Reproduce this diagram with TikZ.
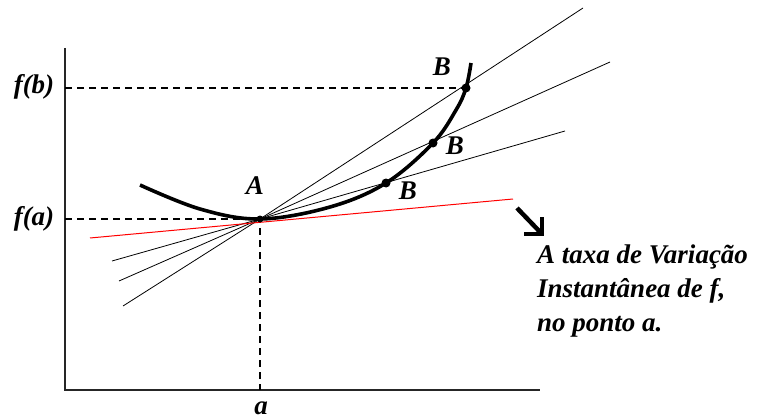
\documentclass[tikz,border=0pt]{standalone}
\usepackage{fontspec}
\setmainfont{Liberation Serif}
\begin{document}
\begin{tikzpicture}[x=1pt,y=-1pt,
  lbl/.style={font=\fontsize{27}{34}\selectfont\bfseries\itshape, inner sep=0pt},
  axis/.style={line width=1.4pt, draw=black!85},
  guide/.style={line width=1.1pt, dash pattern=on 7pt off 5pt},
  secant/.style={line width=0.8pt},
  tangent/.style={line width=1pt, draw=red},
  curve/.style={line width=3.6pt},
  dot/.style={circle, fill=black, inner sep=0pt, minimum size=9pt}]
\useasboundingbox (0,0) rectangle (772,420);
% points
\coordinate (O) at (65,390);
\coordinate (Ytop) at (65,48);
\coordinate (Xend) at (540,390);
\coordinate (A) at (260,219);
\node[dot] (B1) at (386,183) {};
\node[dot] (B2) at (433,143) {};
\node[dot] (B3) at (466,88) {};
% axes
\draw[axis] (Ytop) -- (O) -- (Xend);
% guides
\coordinate (FA) at (O |- A);
\coordinate (FB) at (O |- B3);
\coordinate (XA) at (O -| A);
\draw[guide] (FA) -- (A) -- (XA);
\draw[guide] (FB) -- (B3);
% secants
\coordinate (S3l) at (123,306);
\coordinate (S3r) at (583,8);
\coordinate (S2l) at (119,281);
\coordinate (S2r) at (610,62);
\coordinate (S1l) at (112,261);
\coordinate (S1r) at (565,131);
\draw[secant] (S3l) -- (A) -- (S3r);
\draw[secant] (S2l) -- (A) -- (S2r);
\draw[secant] (S1l) -- (A) -- (S1r);
% tangent
\coordinate (Tl) at (90,238);
\coordinate (Tr) at (513,199);
\draw[tangent] (Tl) -- (Tr);
% curve
\draw[curve] plot[smooth, tension=0.6] coordinates {(140,185) (200,209) (260,219) (330,207) (386,183) (433,143) (456,110) (466,88) (471,63)};
\node[dot, minimum size=7pt] at (A) {};
% labels
\node[lbl] (lfb) at (34,87) {f(b)};
\node[lbl] (lfa) at (34,219) {f(a)};
\node[lbl] (lA) at (255,186) {A};
\node[lbl] (la) at (261,408) {a};
\node[lbl] (lB3) at (442,67) {B};
\node[lbl] (lB2) at (455,146) {B};
\node[lbl] (lB1) at (408,191) {B};
% arrow
\coordinate (Ar0) at (517,208);
\coordinate (ArT) at (542,234);
\coordinate (ArU) at (542,217);
\coordinate (ArL) at (524,234);
\draw[line width=4.5pt] (Ar0) -- (ArT);
\draw[line width=4.5pt, line join=miter] (ArU) -- (ArT) -- (ArL);
\node[lbl, anchor=north west, align=left] (note) at (537,245) {A taxa de Variação\\Instantânea de f,\\no ponto a.};
\end{tikzpicture}
\end{document}
